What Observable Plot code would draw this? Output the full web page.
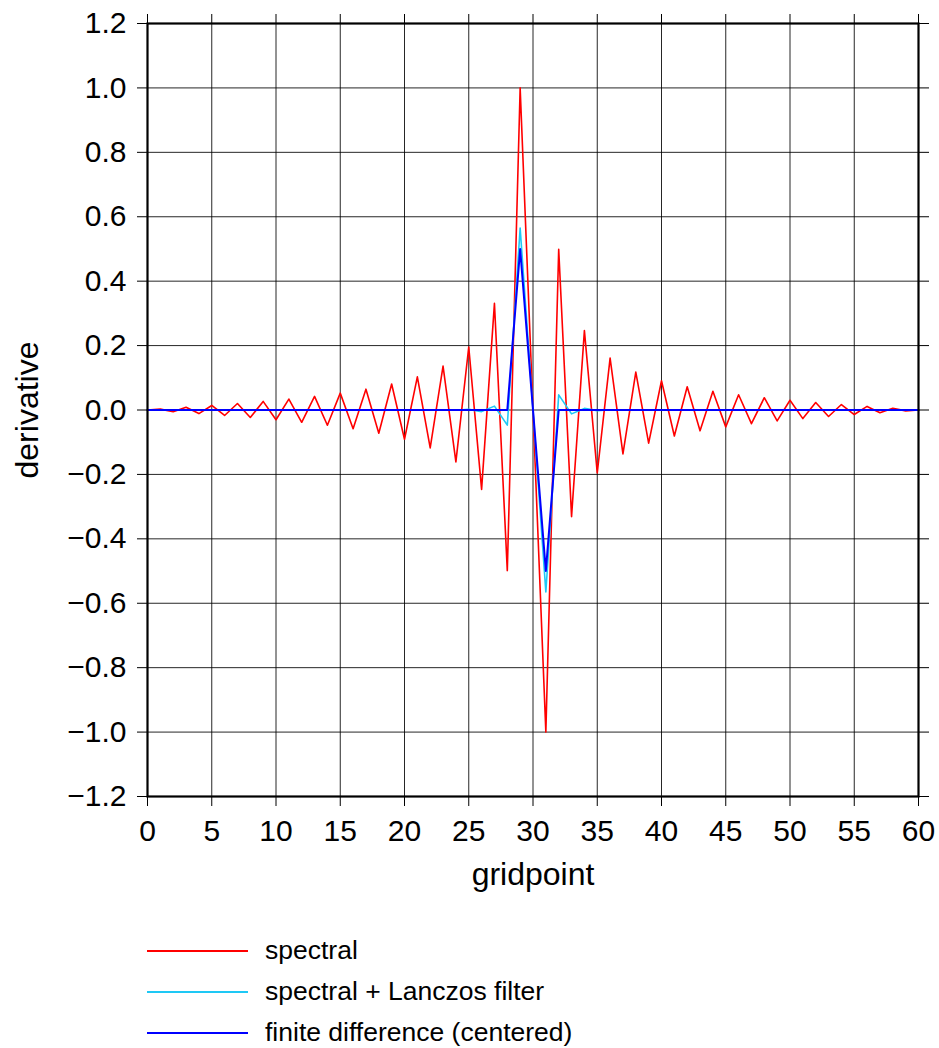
<!DOCTYPE html>
<html>
<head>
<meta charset="utf-8">
<script src="https://cdn.jsdelivr.net/npm/d3@7"></script>
<script src="https://cdn.jsdelivr.net/npm/@observablehq/plot@0.6"></script>
<style>
  html, body { margin: 0; padding: 0; background: white; }
  body { width: 939px; font-family: "Liberation Sans", Arial, Helvetica, sans-serif; }
  #legend { padding-left: 147px; padding-top: 10px; }
  .row { display: flex; align-items: center; height: 41px; }
  .row svg { display: block; margin-right: 17px; }
  .row span { font-size: 26.5px; color: black; line-height: 1; }
</style>
</head>
<body>
<div id="chart"></div>
<div id="legend"></div>
<script>
// ---- data ----
const gridpoint = [0,1,2,3,4,5,6,7,8,9,10,11,12,13,14,15,16,17,18,19,20,21,22,23,24,25,26,27,28,29,30,
  31,32,33,34,35,36,37,38,39,40,41,42,43,44,45,46,47,48,49,50,51,52,53,54,55,56,57,58,59,60];

const spectral = [0, 0.0027, -0.0055, 0.0083, -0.0111, 0.0140, -0.0170, 0.0201, -0.0233, 0.0267,
  -0.0303, 0.0340, -0.0381, 0.0424, -0.0472, 0.0524, -0.0582, 0.0647, -0.0721, 0.0807,
  -0.0908, 0.1029, -0.1177, 0.1365, -0.1613, 0.1956, -0.2466, 0.3309, -0.4986, 1.0,
  0,
  -1.0, 0.4986, -0.3309, 0.2466, -0.1956, 0.1613, -0.1365, 0.1177, -0.1029, 0.0908,
  -0.0807, 0.0721, -0.0647, 0.0582, -0.0524, 0.0472, -0.0424, 0.0381, -0.0340, 0.0303,
  -0.0267, 0.0233, -0.0201, 0.0170, -0.0140, 0.0111, -0.0083, 0.0055, -0.0027, 0];

const lanczos = [0,0,0,0,0,0,0,0,0,0,
  0,0,0,0,0,0,0,0,0,0,
  0,0,0,0,-0.001,0.002,-0.005,0.012,-0.047,0.565,
  0,
  -0.565,0.047,-0.012,0.005,-0.002,0.001,0,0,0,0,
  0,0,0,0,0,0,0,0,0,0,
  0,0,0,0,0,0,0,0,0,0];

const finiteDiff = [0,0,0,0,0,0,0,0,0,0,
  0,0,0,0,0,0,0,0,0,0,
  0,0,0,0,0,0,0,0,0,0.5,
  0,
  -0.5,0,0,0,0,0,0,0,0,0,
  0,0,0,0,0,0,0,0,0,0,
  0,0,0,0,0,0,0,0,0,0];

const seriesNames = ["spectral", "spectral + Lanczos filter", "finite difference (centered)"];
const seriesColors = ["#ff0000", "#1ec8f5", "#0000ff"];

const xTicks = [0,5,10,15,20,25,30,35,40,45,50,55,60];
const yTicks = [-1.2,-1.0,-0.8,-0.6,-0.4,-0.2,0.0,0.2,0.4,0.6,0.8,1.0,1.2];

// ---- build table ----
const seriesValues = [spectral, lanczos, finiteDiff];
const rows = [];
seriesValues.forEach((vals, s) => {
  gridpoint.forEach((g, i) => rows.push({g, v: vals[i], s: seriesNames[s]}));
});

const fmtY = d3.format(".1f");

const chart = Plot.plot({
  width: 939,
  height: 920,
  marginLeft: 147,
  marginRight: 21,
  marginTop: 23,
  marginBottom: 124,
  style: {fontFamily: '"Liberation Sans", Arial, Helvetica, sans-serif', color: "black", background: "white"},
  x: {domain: [0, 60]},
  y: {domain: [-1.2, 1.2]},
  color: {domain: seriesNames, range: seriesColors},
  marks: [
    Plot.gridX(xTicks, {stroke: "black", strokeOpacity: 0.85, strokeWidth: 1}),
    Plot.gridY(yTicks, {stroke: "black", strokeOpacity: 0.85, strokeWidth: 1}),
    Plot.lineY(rows.filter(d => d.s === seriesNames[0]), {x: "g", y: "v", stroke: "s", strokeWidth: 1.6}),
    Plot.lineY(rows.filter(d => d.s === seriesNames[1]), {x: "g", y: "v", stroke: "s", strokeWidth: 1.6}),
    Plot.lineY(rows.filter(d => d.s === seriesNames[2]), {x: "g", y: "v", stroke: "s", strokeWidth: 2}),
    Plot.frame({stroke: "black", strokeWidth: 2.2}),
    Plot.axisX(xTicks, {anchor: "bottom", tickSize: 10, tickPadding: 13, fontSize: 30, tickFormat: d => String(d), label: null}),
    Plot.axisX(xTicks, {anchor: "top", tickSize: 10, tickFormat: () => "", label: null}),
    Plot.axisY(yTicks, {anchor: "left", tickSize: 10, tickPadding: 11, fontSize: 30, tickFormat: d => fmtY(d), label: null}),
    Plot.axisY(yTicks, {anchor: "right", tickSize: 10, tickFormat: () => "", label: null}),
    Plot.text(["gridpoint"], {frameAnchor: "bottom", textAnchor: "middle", dy: 88, fontSize: 32, fill: "black"}),
    Plot.text(["derivative"], {frameAnchor: "left", textAnchor: "middle", rotate: -90, dx: -120, fontSize: 32, fill: "black"})
  ]
});
document.getElementById("chart").appendChild(chart);

// ---- legend ----
const legend = document.getElementById("legend");
seriesNames.forEach((name, i) => {
  const row = document.createElement("div");
  row.className = "row";
  const svg = d3.create("svg").attr("width", 101).attr("height", 4);
  svg.append("line").attr("x1", 0).attr("x2", 101).attr("y1", 2).attr("y2", 2)
    .attr("stroke", seriesColors[i]).attr("stroke-width", 2);
  row.appendChild(svg.node());
  const span = document.createElement("span");
  span.textContent = name;
  row.appendChild(span);
  legend.appendChild(row);
});
</script>
</body>
</html>
